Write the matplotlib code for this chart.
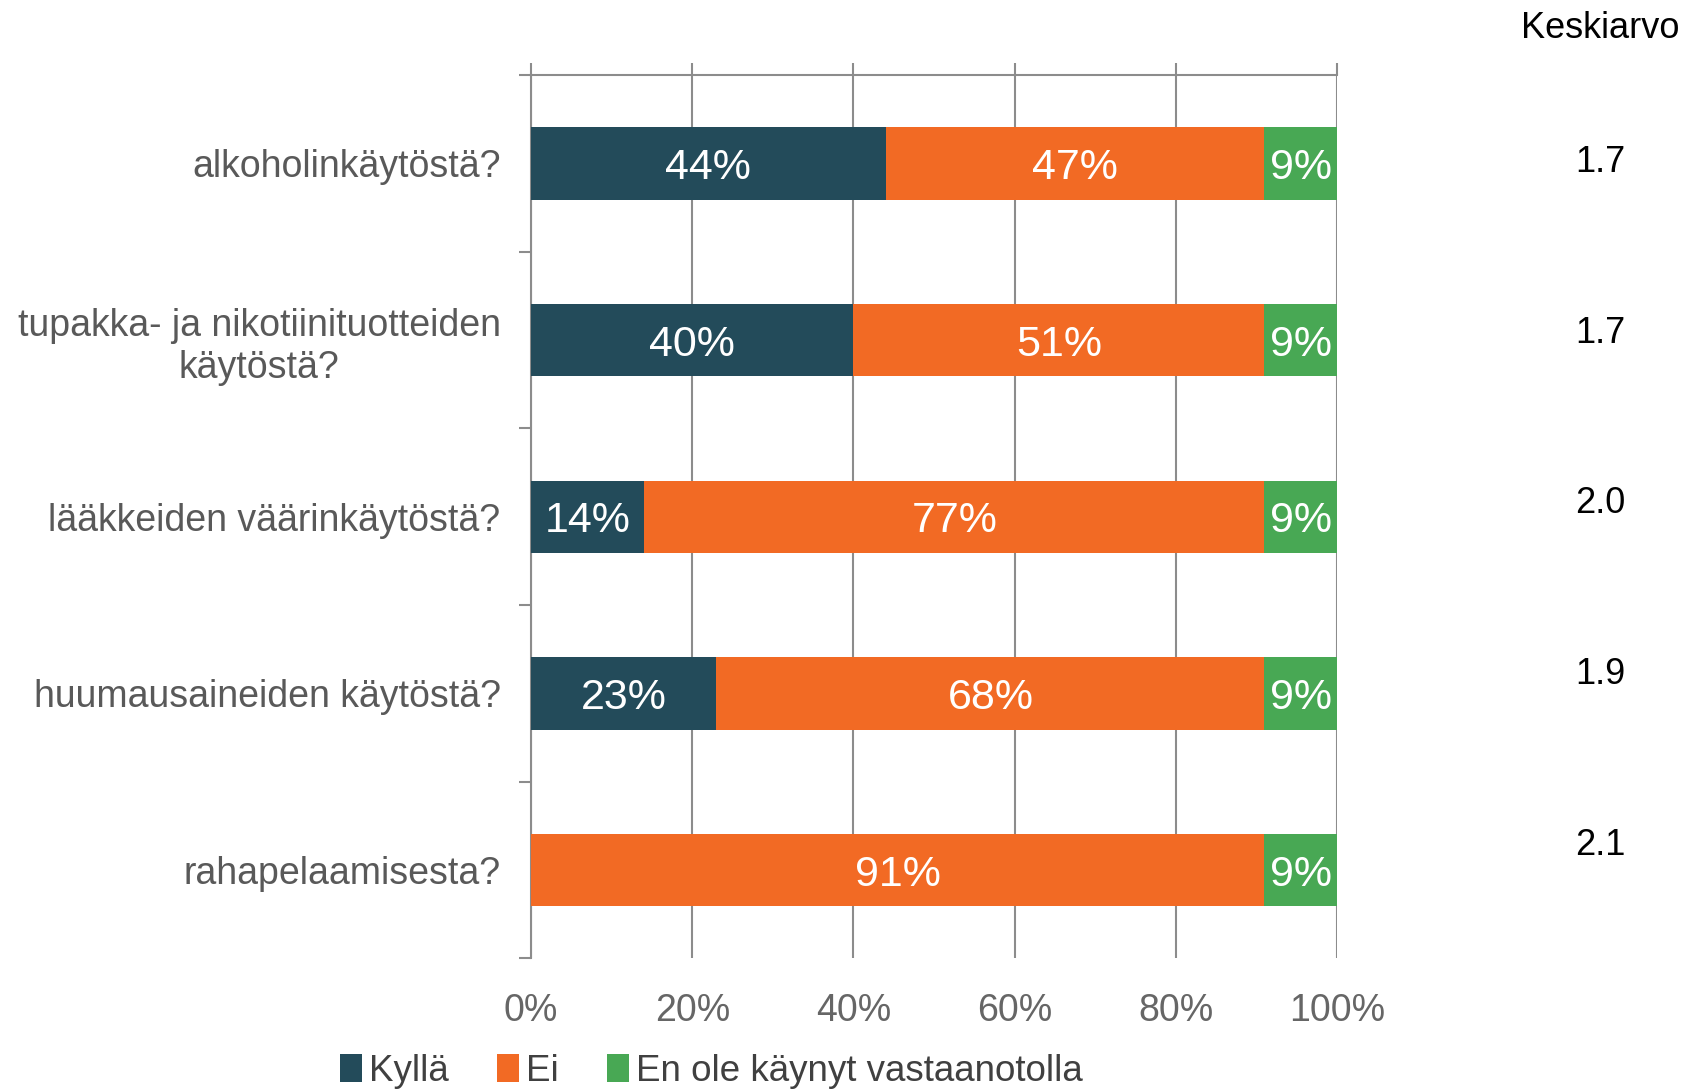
import numpy as np
import matplotlib.pyplot as plt

categories = ["alkoholinkäytöstä?",
              "tupakka- ja nikotiinituotteiden\nkäytöstä?",
              "lääkkeiden väärinkäytöstä?",
              "huumausaineiden käytöstä?",
              "rahapelaamisesta?"]
kylla = [44, 40, 14, 23, 0]
ei = [47, 51, 77, 68, 91]
en_ole = [9, 9, 9, 9, 9]
keskiarvo = ["1.7", "1.7", "2.0", "1.9", "2.1"]
series_names = ["Kyllä", "Ei", "En ole käynyt vastaanotolla"]
colors = ["#234B5A", "#F26A24", "#48A854"]

plt.rcParams['font.family'] = ['Liberation Sans', 'DejaVu Sans']

fig = plt.figure(figsize=(16.86, 10.89), dpi=100)
ax = fig.add_axes([0.315, 0.120, 0.478, 0.811])

y = np.arange(len(categories))
left = np.zeros(len(categories))
for vals, name, col in zip([kylla, ei, en_ole], series_names, colors):
    vals = np.array(vals, dtype=float)
    ax.barh(y, vals, left=left, height=0.41, color=col, label=name, zorder=3)
    for yi, l, v in zip(y, left, vals):
        if v > 0:
            ax.text(l + v / 2, yi, f"{int(v)}%", ha='center', va='center_baseline',
                    color='white', fontsize=31, zorder=4)
    left += vals

ax.set_xlim(0, 100)
ax.set_ylim(4.5, -0.5)
ax.set_xticks(np.arange(0, 101, 20))
ax.set_xticklabels([f"{t}%" for t in range(0, 101, 20)])
ax.xaxis.grid(True, color='#8c8c8c', linewidth=1.5, zorder=0)

# category labels on the left, ticks on boundaries
ax.set_yticks(y)
ax.set_yticklabels(categories, fontsize=27, color='#595959', ha='right',
                   multialignment='center')
ax.tick_params(axis='y', length=0, pad=22)
ax.set_yticks(np.arange(-0.5, 5, 1), minor=True)
ax.tick_params(axis='y', which='minor', length=9, width=1.5, color='#8c8c8c')

ax.tick_params(axis='x', which='major', labelsize=27, labelcolor='#666666',
               length=9, width=1.5, color='#8c8c8c', top=True, bottom=False,
               labeltop=False, labelbottom=True, pad=16)

for s in ['right', 'bottom']:
    ax.spines[s].set_visible(False)
for s in ['left', 'top']:
    ax.spines[s].set_color('#8c8c8c')
    ax.spines[s].set_linewidth(1.5)

# mean column
fig.text(0.996, 0.974, "Keskiarvo", ha='right', va='center', fontsize=26, color='black')
for i, val in enumerate(keskiarvo):
    yy = 1 - (151 + i * 158.8) * 1.0753 / 1089
    fig.text(0.949, yy, val, ha='center', va='center', fontsize=26, color='black')

fig.legend(loc='center', bbox_to_anchor=(0.422, 0.016), ncol=3, frameon=False,
           fontsize=26.5, handlelength=0.6, handleheight=0.8, handletextpad=0.2,
           columnspacing=1.3, labelcolor='#404040', borderaxespad=0, borderpad=0)

fig.savefig("out.png", dpi=100)
